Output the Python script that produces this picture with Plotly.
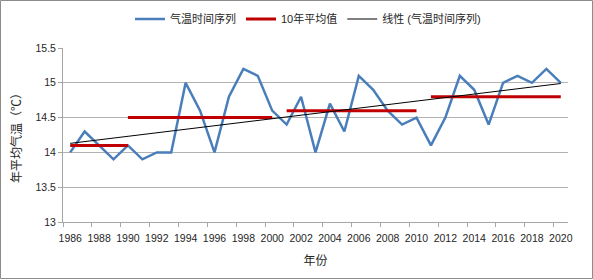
import numpy as np
import plotly.graph_objects as go

years = list(range(1986, 2021))
temps = [14.0, 14.3, 14.1, 13.9, 14.1, 13.9, 14.0, 14.0, 15.0, 14.6,
         14.0, 14.8, 15.2, 15.1, 14.6, 14.4, 14.8, 14.0, 14.7, 14.3,
         15.1, 14.9, 14.6, 14.4, 14.5, 14.1, 14.5, 15.1, 14.9, 14.4,
         15.0, 15.1, 15.0, 15.2, 15.0]

seg_start = [1986, 1990, 2001, 2011]
seg_end = [1990, 2000, 2010, 2020]
seg_mean = [14.1, 14.5, 14.6, 14.8]

x_ticks = list(range(1986, 2021, 2))
y_ticks = [13, 13.5, 14, 14.5, 15, 15.5]

W, H = 593, 280
ML, MR, MT, MB = 63, 25, 48, 58
FONT = "Liberation Sans, Noto Sans CJK SC, sans-serif"
TXT = "#262626"

# red decade means as one series with gaps
rx, ry = [], []
for s, e, m in zip(seg_start, seg_end, seg_mean):
    rx += [s, e, None]
    ry += [m, m, None]

# linear trend of the temperature series
coef = np.polyfit(years, temps, 1)
tx = [years[0], years[-1]]
ty = list(np.polyval(coef, tx))

fig = go.Figure()
fig.add_trace(go.Scatter(x=years, y=temps, mode="lines", name="气温时间序列",
                         line=dict(color="#4a7ebb", width=2.5)))
fig.add_trace(go.Scatter(x=rx, y=ry, mode="lines", name="10年平均值",
                         line=dict(color="#c00000", width=3)))
fig.add_trace(go.Scatter(x=tx, y=ty, mode="lines", name="线性 (气温时间序列)",
                         line=dict(color="#000000", width=1)))

pw = W - ML - MR
ph = H - MT - MB
def px_x(p):
    return (p - ML) / pw
def px_y(p):
    return (H - MB - p) / ph

fig.update_layout(
    width=W, height=H,
    margin=dict(l=ML, r=MR, t=MT, b=MB, autoexpand=False),
    paper_bgcolor="white", plot_bgcolor="white",
    font=dict(family=FONT, size=10.5, color=TXT),
    showlegend=True,
    legend=dict(orientation="h", x=px_x(130), xanchor="left", y=px_y(19), yanchor="middle",
                font=dict(size=11, color=TXT), itemwidth=30,
                bgcolor="rgba(0,0,0,0)", tracegroupgap=0),
    xaxis=dict(range=[1985.5, 2020.5], tickmode="array", tickvals=x_ticks,
               ticktext=[str(v) for v in x_ticks], ticks="", showgrid=False,
               showline=True, linecolor="#a6a6a6", linewidth=1,
               ticklabelstandoff=6, zeroline=False, automargin=False,
               minor=dict(ticks="outside", tickvals=[v - 0.5 for v in x_ticks],
                          ticklen=4, tickcolor="#a6a6a6", showgrid=False),
               title=dict(text="年份", font=dict(size=12, color=TXT), standoff=14)),
    yaxis=dict(range=[13, 15.5], tickmode="array", tickvals=y_ticks,
               ticks="outside", ticklen=4, tickcolor="#a6a6a6",
               showgrid=True, gridcolor="#b3b3b3", gridwidth=1, automargin=False,
               showline=True, linecolor="#a6a6a6", linewidth=1, zeroline=False,
               title=dict(text="年平均气温（℃）", font=dict(size=12, color=TXT), standoff=11)),
    shapes=[dict(type="rect", xref="paper", yref="paper",
                 x0=px_x(0.5), x1=px_x(592.5), y0=px_y(278.5), y1=px_y(0.5),
                 line=dict(color="#8c8c8c", width=1), layer="below")],
)

fig.write_html("out.html", config={"displayModeBar": False},
               post_script="document.body.style.margin='0';")
